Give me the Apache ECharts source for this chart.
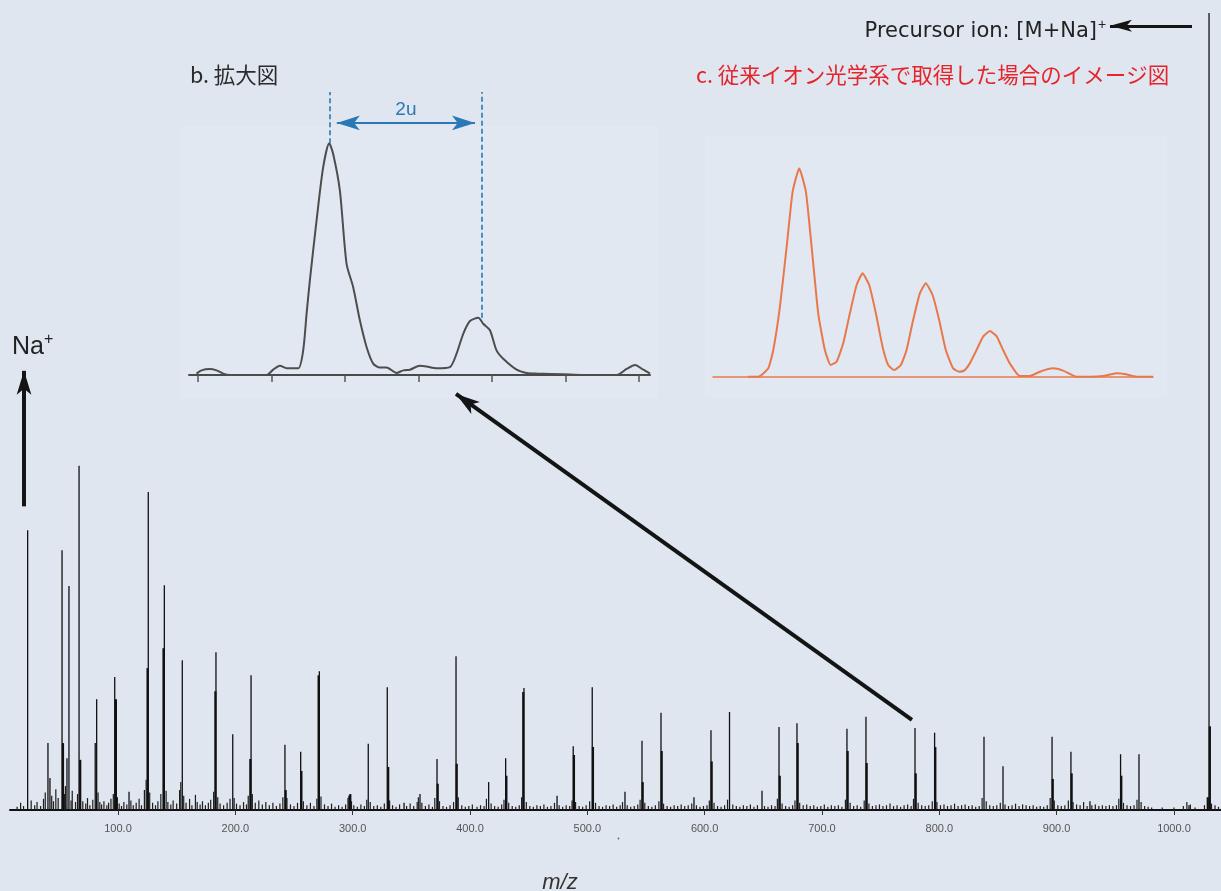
<!DOCTYPE html>
<html>
<head>
<meta charset="utf-8">
<script src="https://cdn.jsdelivr.net/npm/echarts@6/dist/echarts.min.js"></script>
<style>
  html, body { margin: 0; padding: 0; background: #dfe6f0; }
  #chart { width: 1221px; height: 891px; }
</style>
</head>
<body>
<div id="chart"></div>
<script>
// ---- Mass spectrum: principal peaks [m/z, relative intensity %] ----
const mainPeaks = [
  [23.0, 35.1], [40.3, 8.4], [42.0, 4.0], [52.3, 32.6], [56.5, 6.5], [58.2, 28.1],
  [66.8, 43.2], [80.6, 8.4], [81.8, 13.9], [97.2, 16.7], [109.4, 2.3], [125.8, 39.9],
  [139.5, 28.2], [154.8, 18.8], [183.5, 19.8], [197.8, 9.5], [213.4, 16.9], [242.3, 8.2],
  [255.7, 7.3], [271.6, 17.4], [313.3, 8.3], [329.5, 15.4], [343.8, 0.9], [357.4, 2.0],
  [371.9, 6.4], [388.1, 19.3], [415.9, 3.5], [430.4, 6.5], [446.0, 15.3], [474.2, 1.8],
  [488.0, 8.0], [504.2, 15.4], [532.1, 2.3], [546.6, 8.7], [562.8, 12.2], [590.9, 1.6],
  [605.4, 10.0], [621.2, 12.3], [648.9, 2.4], [663.4, 10.4], [678.7, 10.9], [721.3, 10.2],
  [737.5, 11.7], [779.3, 10.3], [796.0, 9.7], [838.1, 9.2], [854.3, 5.5], [896.1, 9.2],
  [912.2, 7.3], [928.4, 1.1], [954.5, 7.0], [970.2, 7.0], [1012.8, 0.6], [1029.9, 100]
];

// ---- Isotope / neighbouring lines that thicken the base of the peaks ----
const clusterPeaks = [
  [53.1, 8.4], [67.8, 6.3], [98.2, 13.9], [125.2, 17.8], [138.8, 20.3], [183.0, 14.9],
  [212.8, 6.4], [242.9, 2.5], [256.3, 4.9], [271.0, 16.9], [297.2, 1.8], [298.0, 2.0],
  [330.3, 5.4], [372.5, 3.3], [388.7, 5.8], [431.0, 4.3], [445.4, 14.8], [488.6, 6.9],
  [504.8, 7.9], [547.2, 3.5], [563.4, 7.4], [606.0, 6.1], [664.0, 4.3], [679.3, 8.4],
  [721.9, 7.4], [738.1, 5.9], [779.9, 4.6], [796.6, 7.9], [896.7, 3.9], [912.8, 4.6],
  [955.1, 4.3], [1028.8, 1.6], [1030.6, 10.5]
];

// ---- Low-level signal along the baseline ----
const baselineSignals = [
  [14,0.4],[17,0.9],[19.5,0.5],[26,1.2],[29,0.6],[31,1.0],[34,0.5],[36.5,1.4],[38,2.2],[43.5,1.8],
  [45,1.1],[47,2.6],[49,1.5],[54.5,2.0],[55.2,3.0],[60,1.2],[61,2.4],[63.8,1.0],[65.5,2.0],[70,1.1],
  [72.5,0.8],[74,1.5],[76,0.6],[78.5,1.3],[83,2.2],[84.5,1.0],[86,0.7],[88,1.1],[90.5,0.6],[92,0.9],
  [94,1.4],[96,2.0],[99.5,1.6],[101,0.8],[103,0.5],[105,1.0],[107.5,0.7],[111,1.2],[113,0.6],[115.5,0.9],
  [118,1.4],[120,0.6],[122.5,2.5],[124,3.8],[127,2.2],[129.5,0.9],[132,0.6],[134,1.1],[136.5,2.0],[141,2.4],
  [142.5,1.0],[145,0.7],[147,1.2],[150,0.8],[152.5,2.5],[153.5,3.5],[156,1.8],[158,0.9],[161,1.4],[163,0.6],
  [166,1.9],[167.5,1.0],[170,0.7],[172,1.1],[174.5,0.6],[177,0.9],[179,1.3],[181.5,2.3],[185,1.6],[187,0.8],
  [190,0.6],[193,0.9],[195.5,1.4],[199,1.5],[201,0.8],[204,0.6],[207,1.0],[209.5,0.7],[211,1.8],[214.5,2.0],
  [217,0.9],[220,1.2],[223,0.7],[226,1.0],[229,0.6],[232,0.9],[235,0.5],[238,0.8],[240.5,1.6],[244,1.5],
  [247,0.7],[250,0.5],[253,0.9],[258,1.1],[261,0.6],[264,0.9],[267,0.5],[269.5,1.4],[273,1.7],[276,0.7],
  [279,0.5],[282,0.8],[285,0.4],[288,0.6],[291,0.4],[294,0.7],[296,1.5],[299,1.1],[301,0.6],[304,0.4],
  [307,0.7],[310,0.5],[312,1.3],[315,1.0],[318,0.5],[321,0.6],[324,0.4],[327,0.8],[331.5,1.2],[334,0.6],
  [337,0.4],[340,0.7],[346,0.5],[349,0.8],[352,0.5],[355,1.0],[356,1.6],[359,0.9],[362,0.5],[365,0.7],
  [368,0.4],[370,1.5],[374,1.1],[377,0.5],[380,0.4],[383,0.6],[386,1.0],[390,1.6],[393,0.6],[396,0.4],
  [399,0.5],[402,0.7],[406,0.4],[409,0.6],[412,0.5],[414,1.4],[418,0.8],[421,0.5],[424,0.4],[427,0.7],
  [429,1.3],[433,0.9],[436,0.5],[439,0.4],[442,0.6],[444,1.6],[448,1.0],[451,0.5],[454,0.4],[457,0.6],
  [460,0.5],[463,0.7],[466,0.4],[469,0.5],[472,0.9],[476,0.6],[479,0.4],[482,0.6],[485,0.5],[487,1.2],
  [490,1.0],[493,0.5],[496,0.4],[499,0.6],[502,1.1],[507,0.9],[510,0.5],[513,0.4],[516,0.6],[519,0.5],
  [522,0.7],[525,0.4],[528,0.6],[530,1.0],[534,0.6],[537,0.4],[540,0.5],[543,0.7],[545,1.3],[549,0.9],
  [552,0.5],[555,0.4],[558,0.6],[561,1.1],[565,0.8],[568,0.5],[571,0.4],[574,0.6],[577,0.5],[580,0.7],
  [583,0.5],[586,0.6],[589,0.8],[593,0.6],[596,0.4],[599,0.5],[602,0.6],[604,1.2],[608,0.9],[611,0.5],
  [614,0.4],[617,0.6],[619.5,1.3],[624,0.7],[627,0.5],[630,0.4],[633,0.6],[636,0.5],[639,0.7],[642,0.4],
  [645,0.6],[651,0.5],[654,0.4],[657,0.6],[660,0.5],[662,1.4],[666,0.8],[669,0.5],[672,0.4],[675,0.6],
  [677,1.2],[681,0.9],[684,0.6],[687,0.7],[690,0.5],[693,0.6],[696,0.4],[699,0.5],[702,0.7],[705,0.4],
  [708,0.6],[711,0.5],[714,0.6],[717,0.4],[720,1.3],[724,0.9],[727,0.5],[730,0.6],[733,0.4],[736,1.2],
  [740,0.8],[743,0.5],[746,0.6],[749,0.7],[752,0.5],[755,0.6],[758,0.8],[761,0.5],[764,0.6],[767,0.4],
  [770,0.6],[773,0.7],[776,0.5],[778,1.4],[782,0.9],[785,0.6],[788,0.5],[791,0.6],[794,1.1],[798,1.0],
  [801,0.6],[804,0.7],[807,0.5],[810,0.6],[813,0.8],[816,0.5],[819,0.6],[822,0.7],[825,0.5],[828,0.6],
  [831,0.4],[834,0.5],[836.5,1.5],[840,1.1],[843,0.6],[846,0.5],[849,0.6],[852,0.9],[856,0.7],[859,0.5],
  [862,0.6],[865,0.8],[868,0.5],[871,0.7],[874,0.6],[877,0.5],[880,0.6],[883,0.4],[886,0.5],[889,0.4],
  [892,0.6],[894.5,1.5],[898,1.2],[901,0.6],[904,0.5],[907,0.6],[910,1.2],[914,1.0],[917,0.7],[920,0.6],
  [923,1.0],[926,0.5],[930,0.6],[933,0.7],[936,0.5],[939,0.6],[942,0.5],[945,0.6],[948,0.5],[951,0.6],
  [953,1.4],[957,0.9],[960,0.6],[963,0.5],[966,0.6],[968.5,1.3],[972,1.0],[975,0.5],[978,0.4],[981,0.3],
  [990,0.3],[1000,0.3],[1008,0.5],[1011,1.0],[1014,0.7],[1018,0.3],[1026,0.6],[1032,0.8],[1035,0.6],[1038,0.4]
];

// m/z tick values on the spectrum axis
const mzTicks = [100, 200, 300, 400, 500, 600, 700, 800, 900, 1000];

// ---- b. enlarged view: profile around the isotope pair [offset in u, relative %] ----
const zoomProfile = [
  [-0.018,0.6],[0.05,2.0],[0.163,2.6],[0.254,2.0],[0.345,0.6],[0.435,0],[0.934,0],[1.025,2.3],
  [1.116,4.0],[1.207,2.9],[1.365,2.9],[1.433,10.6],[1.479,26.4],[1.524,40.8],[1.615,66.7],[1.705,89.7],
  [1.787,100],[1.841,95.4],[1.932,79.6],[2.023,48.0],[2.113,37.9],[2.204,23.6],[2.295,12.1],[2.385,4.9],
  [2.476,3.2],[2.567,3.2],[2.703,0.9],[2.794,2.0],[2.884,2.3],[3.020,4.0],[3.111,3.7],[3.247,2.9],
  [3.429,3.4],[3.519,9.2],[3.610,17.8],[3.701,23.3],[3.814,24.7],[3.882,22.1],[3.973,19.3],[4.063,10.6],
  [4.154,7.0],[4.336,2.3],[4.472,0.9],[4.608,0.6],[4.970,0.3],[5.242,0],[5.696,0],[5.832,2.6],
  [5.946,4.3],[6.059,2.3],[6.150,0.6]
];
const zoomTicks = [0, 1, 2, 3, 4, 5, 6];
const zoomPeakPositions = [1.796, 3.86];     // dashed guides at the two maxima
const zoomPeakHeights = [100, 24.7];

// ---- c. conventional ion optics: simulated envelope [offset in u, relative %] ----
const simProfile = [
  [-0.803,0],[-0.646,0],[-0.488,4.0],[-0.409,12.8],[-0.304,33.6],[-0.198,62.4],[-0.104,88.8],[0,100],
  [0.105,88.8],[0.195,62.4],[0.299,30.4],[0.404,12.8],[0.494,5.6],[0.589,7.2],[0.693,16.0],[0.798,30.4],
  [0.904,44.0],[0.998,49.6],[1.102,44.0],[1.208,30.4],[1.313,14.4],[1.402,5.6],[1.496,3.2],[1.602,5.6],
  [1.691,12.8],[1.795,27.2],[1.901,40.0],[1.995,44.8],[2.101,39.2],[2.205,27.2],[2.310,12.8],[2.425,4.0],
  [2.520,2.4],[2.598,2.9],[2.688,6.4],[2.794,12.8],[2.898,19.2],[3.003,21.9],[3.109,19.5],[3.213,12.8],
  [3.318,6.4],[3.476,0.3],[3.633,0.3],[3.791,2.4],[4.0,4.0],[4.157,2.9],[4.369,0],[4.578,0],
  [4.787,0.3],[4.998,1.6],[5.129,1.3],[5.313,0],[5.575,0]
];

const LATIN = '"Liberation Sans", Arial, sans-serif';
const WIDE = '"DejaVu Sans", "Liberation Sans", sans-serif';
const CJK = '"Noto Sans CJK JP", "Liberation Sans", sans-serif';

// vertical stick renderer for spectrum lines
function stickRenderer(color, width) {
  return function (params, api) {
    const m = api.value(0), h = api.value(1);
    const p0 = api.coord([m, 0]);
    const p1 = api.coord([m, h]);
    return {
      type: 'line',
      shape: { x1: p0[0], y1: p0[1], x2: p1[0], y2: p1[1] },
      style: { stroke: color, lineWidth: width }
    };
  };
}

const chart = echarts.init(document.getElementById('chart'), null, { renderer: 'canvas' });

const hiddenY = (gi, max) => ({
  gridIndex: gi, type: 'value', min: 0, max: max, show: false,
  splitLine: { show: false }
});

const option = {
  backgroundColor: '#dfe6f0',
  animation: false,
  grid: [
    { left: 10, top: 13, width: 1211, height: 797 },
    { left: 189, top: 85.4, width: 461, height: 289.6 },
    { left: 713, top: 168.3, width: 440, height: 208.4 }
  ],
  xAxis: [
    {
      gridIndex: 0, type: 'value', min: 7.95, max: 1040.1,
      splitLine: { show: false },
      axisLine: { lineStyle: { color: '#111', width: 2 } },
      axisTick: { customValues: mzTicks, length: 5, lineStyle: { color: '#333', width: 1 } },
      axisLabel: {
        customValues: mzTicks, formatter: v => Number(v).toFixed(1),
        fontSize: 11, color: '#555', margin: 13, fontFamily: LATIN
      }
    },
    {
      gridIndex: 1, type: 'value', min: -0.12, max: 6.15,
      splitLine: { show: false },
      axisLine: { lineStyle: { color: '#4a4a4a', width: 2 } },
      axisTick: { customValues: zoomTicks, length: 7, lineStyle: { color: '#555', width: 1.5 } },
      axisLabel: { show: false }
    },
    {
      gridIndex: 2, type: 'value', min: -1.359, max: 5.575,
      splitLine: { show: false },
      axisLine: { lineStyle: { color: '#e8784a', width: 1.5 } },
      axisTick: { show: false },
      axisLabel: { show: false }
    }
  ],
  yAxis: [hiddenY(0, 100), hiddenY(1, 125), hiddenY(2, 100)],
  series: [
    {
      type: 'custom', xAxisIndex: 0, yAxisIndex: 0, silent: true,
      renderItem: stickRenderer('#1e1e1e', 1.2), data: baselineSignals
    },
    {
      type: 'custom', xAxisIndex: 0, yAxisIndex: 0, silent: true,
      renderItem: stickRenderer('#111', 2.2), data: clusterPeaks
    },
    {
      type: 'custom', xAxisIndex: 0, yAxisIndex: 0, silent: true,
      renderItem: stickRenderer('#111', 1.3), data: mainPeaks,
      markLine: {
        silent: true, animation: false,
        symbol: ['none', 'arrow'],
        label: { show: false },
        lineStyle: { type: 'solid', color: '#141414' },
        data: [
          // Na+ pointer
          [{ coord: [19.9, 38.1], lineStyle: { width: 4 }, symbol: 'none' },
           { coord: [19.9, 55.1], symbol: 'arrow', symbolSize: [11, 24] }],
          // precursor pointer
          [{ coord: [1015.4, 98.4], lineStyle: { width: 3 }, symbol: 'none' },
           { coord: [945.5, 98.4], symbol: 'arrow', symbolSize: [9, 22] }],
          // link from the m/z 779 cluster to the enlarged view
          [{ coord: [776.7, 11.3], lineStyle: { width: 4 }, symbol: 'none' },
           { coord: [388.1, 52.2], symbol: 'arrow', symbolSize: [11, 24] }]
        ]
      }
    },
    {
      type: 'line', xAxisIndex: 1, yAxisIndex: 1, silent: true,
      data: zoomProfile, showSymbol: false, smooth: 0.25,
      lineStyle: { color: '#4d4d4d', width: 2 },
      markLine: {
        silent: true, animation: false,
        label: { show: false },
        data: [
          [{ coord: [zoomPeakPositions[0], zoomPeakHeights[0]], symbol: 'none',
             lineStyle: { type: [5, 3], color: '#2a78b5', width: 1.6 } },
           { coord: [zoomPeakPositions[0], 122.1], symbol: 'none' }],
          [{ coord: [zoomPeakPositions[1], zoomPeakHeights[1]], symbol: 'none',
             lineStyle: { type: [5, 3], color: '#2a78b5', width: 1.6 } },
           { coord: [zoomPeakPositions[1], 122.1], symbol: 'none' }],
          [{ coord: [1.891, 108.8], symbol: 'arrow', symbolSize: [11, 23],
             lineStyle: { type: 'solid', color: '#2a78b5', width: 2 },
             label: { show: true, position: 'middle', formatter: '2u', color: '#2a78b5',
                      fontSize: 19, fontFamily: LATIN, distance: 4 } },
           { coord: [3.769, 108.8], symbol: 'arrow', symbolSize: [11, 23] }]
        ]
      }
    },
    {
      type: 'line', xAxisIndex: 2, yAxisIndex: 2, silent: true,
      data: simProfile, showSymbol: false, smooth: 0.15,
      lineStyle: { color: '#e8784a', width: 2 }
    }
  ],
  graphic: [
    // pale panels behind the two insets
    { type: 'rect', z: -10, shape: { x: 180, y: 126, width: 478, height: 272 },
      style: { fill: '#e2e8f2' }, silent: true },
    { type: 'rect', z: -10, shape: { x: 705, y: 136, width: 462, height: 262 },
      style: { fill: '#e2e8f2' }, silent: true },
    { type: 'text', style: { x: 12, y: 347, text: 'Na', font: '25px ' + LATIN, fill: '#222',
      textAlign: 'left', textVerticalAlign: 'middle' }, silent: true },
    { type: 'text', style: { x: 44, y: 340, text: '+', font: '16px ' + LATIN, fill: '#222',
      textAlign: 'left', textVerticalAlign: 'middle' }, silent: true },
    { type: 'text', style: { x: 1097, y: 32, text: 'Precursor ion: [M+Na]', font: '21px ' + WIDE,
      fill: '#222', textAlign: 'right', textVerticalAlign: 'middle' }, silent: true },
    { type: 'text', style: { x: 1098, y: 25, text: '+', font: '14px ' + LATIN, fill: '#222',
      textAlign: 'left', textVerticalAlign: 'middle' }, silent: true },
    { type: 'text', style: { x: 190, y: 75, text: 'b. 拡大図', font: '21.5px ' + CJK, fill: '#2b2b2b',
      textAlign: 'left', textVerticalAlign: 'middle' }, silent: true },
    { type: 'text', style: { x: 696, y: 75, text: 'c. 従来イオン光学系で取得した場合のイメージ図',
      font: '21.5px ' + CJK, fill: '#e5242c', textAlign: 'left', textVerticalAlign: 'middle' }, silent: true },
    { type: 'text', style: { x: 560, y: 883, text: 'm/z', font: 'italic 22px ' + LATIN, fill: '#333',
      textAlign: 'center', textVerticalAlign: 'middle' }, silent: true },
    { type: 'circle', shape: { cx: 618.5, cy: 838.5, r: 0.9 }, style: { fill: '#666' }, silent: true }
  ]
};

chart.setOption(option);
</script>
</body>
</html>
